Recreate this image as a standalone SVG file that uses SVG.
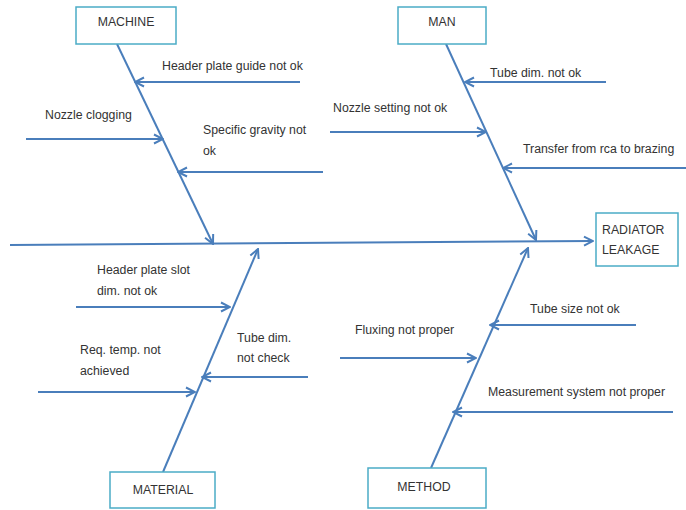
<svg xmlns="http://www.w3.org/2000/svg" width="686" height="510" viewBox="0 0 686 510">
<style>
.box{fill:#fff;stroke:#4bacc6;stroke-width:1.5}
.ln{stroke:#4a7ebb;stroke-width:2;fill:none}
.arr{marker-end:url(#ah)}
text{font-family:"Liberation Sans",Arial,sans-serif;font-size:12.3px;fill:#333}
.c{text-anchor:middle}
</style>
<defs>
<marker id="ah" markerUnits="userSpaceOnUse" viewBox="0 0 12 12" refX="11" refY="6" markerWidth="12" markerHeight="12" orient="auto">
<path d="M2,1.5 L11,6 L2,10.5" fill="none" stroke="#4a7ebb" stroke-width="2"/>
</marker>
</defs>
<rect width="686" height="510" fill="#fff"/>
<g id="connectors">
<line class="ln arr" x1="10" y1="245" x2="593" y2="241"/>
<line class="ln arr" x1="117" y1="44" x2="213" y2="244"/>
<line class="ln arr" x1="446" y1="44" x2="536" y2="240"/>
<line class="ln arr" x1="163" y1="472" x2="258" y2="249"/>
<line class="ln arr" x1="431" y1="468" x2="528" y2="248"/>
<line class="ln arr" x1="300" y1="82" x2="135" y2="82"/>
<line class="ln arr" x1="26" y1="139" x2="163" y2="139"/>
<line class="ln arr" x1="323" y1="172" x2="178" y2="172"/>
<line class="ln arr" x1="606" y1="82" x2="465" y2="82"/>
<line class="ln arr" x1="330" y1="132" x2="486" y2="132"/>
<line class="ln arr" x1="686" y1="168" x2="503" y2="168"/>
<line class="ln arr" x1="76" y1="307" x2="230" y2="307"/>
<line class="ln arr" x1="38" y1="392" x2="195" y2="392"/>
<line class="ln arr" x1="308" y1="377" x2="202" y2="377"/>
<line class="ln arr" x1="636" y1="325" x2="490" y2="325"/>
<line class="ln arr" x1="340" y1="358" x2="476" y2="358"/>
<line class="ln arr" x1="673" y1="412" x2="453" y2="412"/>
</g>
<g id="machine"><rect class="box" x="76" y="7" width="100" height="37"/><text class="c" x="126" y="26">MACHINE</text></g>
<g id="man"><rect class="box" x="398" y="7" width="88" height="37"/><text class="c" x="442" y="26">MAN</text></g>
<g id="material"><rect class="box" x="110" y="472" width="105" height="36"/><text class="c" x="163" y="494">MATERIAL</text></g>
<g id="method"><rect class="box" x="368" y="468" width="118" height="40"/><text class="c" x="424" y="491">METHOD</text></g>
<g id="radiator"><rect class="box" x="596" y="213" width="82" height="53"/><text x="602" y="234">RADIATOR</text><text x="602" y="254">LEAKAGE</text></g>
<g id="labels">
<text x="162" y="70">Header plate guide not ok</text>
<text x="45" y="119">Nozzle clogging</text>
<text x="203" y="134">Specific gravity not</text>
<text x="203" y="155">ok</text>
<text x="490" y="77">Tube dim. not ok</text>
<text x="333" y="112">Nozzle setting not ok</text>
<text x="523" y="153">Transfer from rca to brazing</text>
<text x="97" y="274">Header plate slot</text>
<text x="97" y="295">dim. not ok</text>
<text x="80" y="354">Req. temp. not</text>
<text x="80" y="375">achieved</text>
<text x="237" y="342">Tube dim.</text>
<text x="237" y="362">not check</text>
<text x="530" y="313">Tube size not ok</text>
<text x="355" y="334">Fluxing not proper</text>
<text x="488" y="396">Measurement system not proper</text>
</g>
</svg>
